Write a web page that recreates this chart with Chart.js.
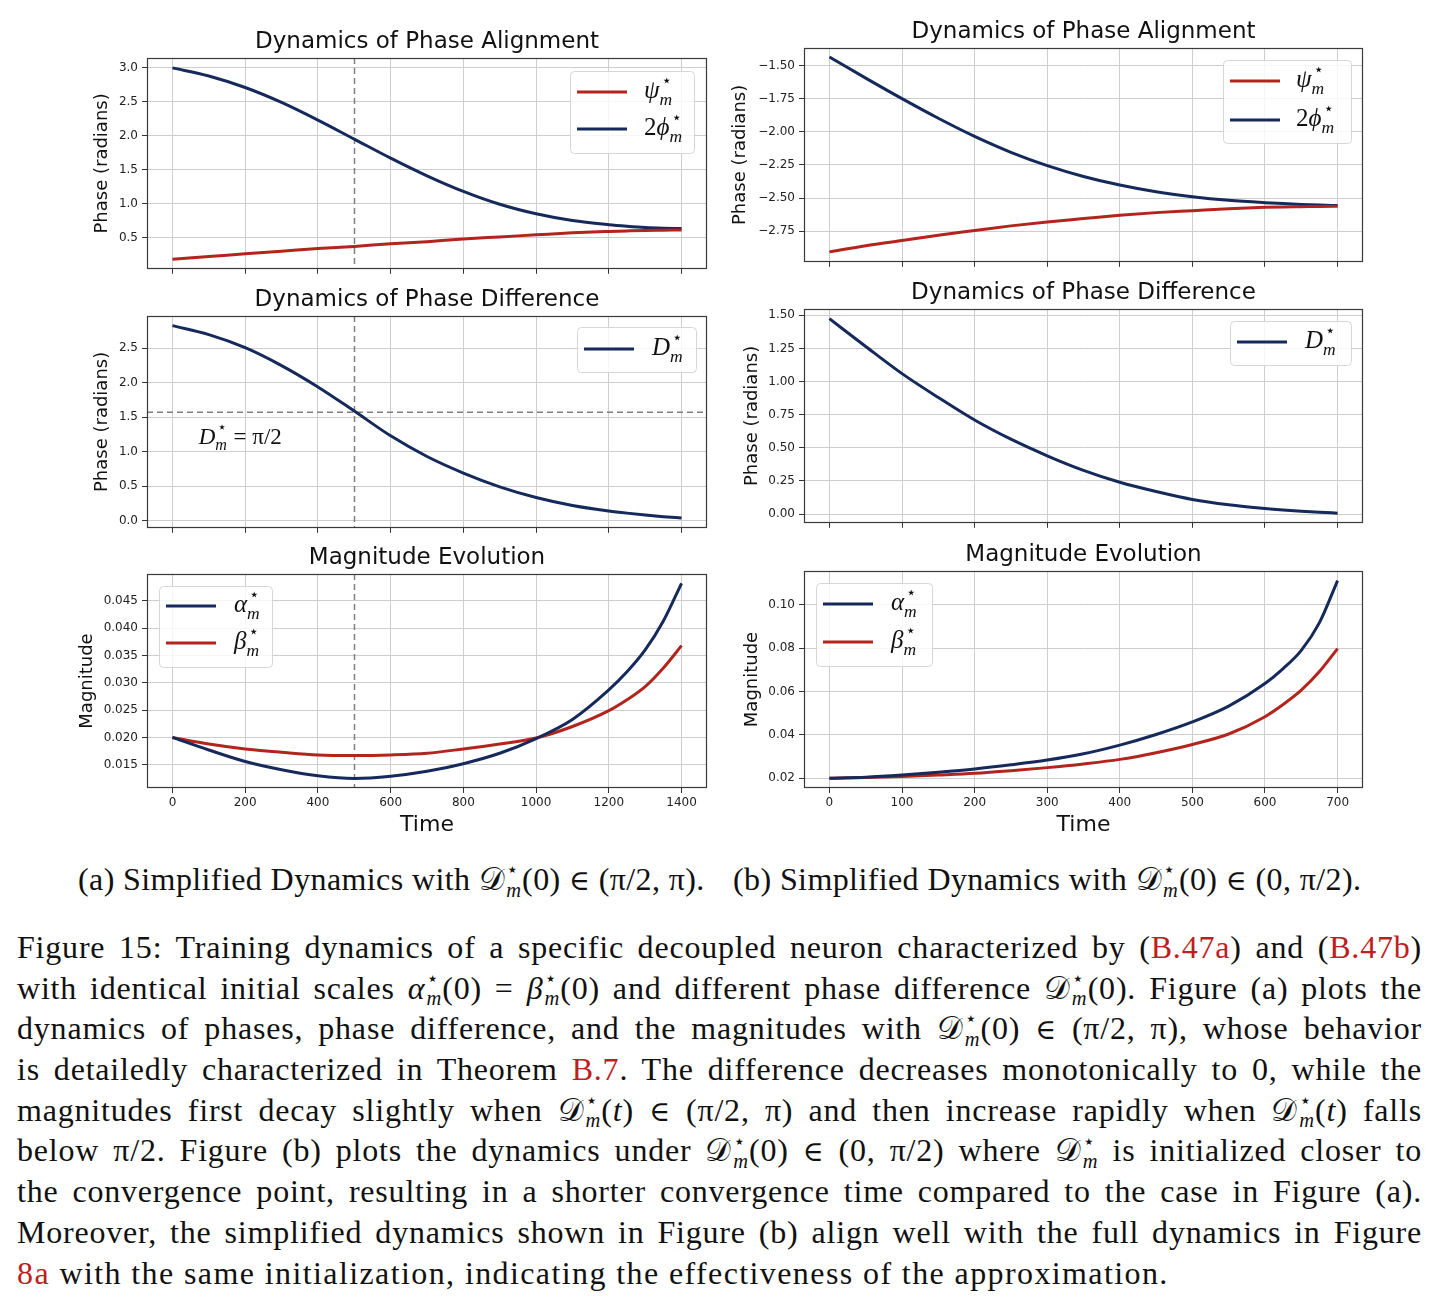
<!DOCTYPE html>
<html><head><meta charset="utf-8">
<script src="https://cdn.jsdelivr.net/npm/chart.js@4.4.1/dist/chart.umd.min.js"></script>
<style>
body{margin:0;background:#fff;}
#page{position:relative;width:1442px;height:1300px;overflow:hidden;background:#fff;}
canvas{position:absolute;}
.txt{position:absolute;font-family:'Liberation Serif',serif;color:#111;}
.cap{line-height:40px;white-space:nowrap;font-size:32px;letter-spacing:0.4px;}
#body{left:17px;width:1405px;top:927px;line-height:40.7px;font-size:32px;letter-spacing:0.8px;}
.ln{text-align:justify;text-align-last:justify;height:40.7px;white-space:nowrap;}
.ln.last{text-align-last:left;letter-spacing:1.4px;}
.mi{font-style:italic;}
.cal{font-style:normal;}
.el{font-family:'DejaVu Serif',serif;font-size:0.88em;}
.ss{display:inline-block;vertical-align:-0.32em;line-height:1.0;font-size:0.64em;margin-left:1px;margin-right:1px;letter-spacing:0;}
.ss span{display:block;}
.ss .st{font-family:'DejaVu Sans',sans-serif;font-size:0.95em;}
.ref{color:#bf1e1e;}
</style>
</head><body>
<div id="page">
<canvas id="c1" width="659" height="256" style="left:60px;top:24px"></canvas>
<canvas id="c2" width="659" height="257" style="left:60px;top:282px"></canvas>
<canvas id="c3" width="659" height="303" style="left:60px;top:540px"></canvas>
<canvas id="c4" width="655" height="259" style="left:720px;top:14px"></canvas>
<canvas id="c5" width="655" height="259" style="left:720px;top:275px"></canvas>
<canvas id="c6" width="655" height="306" style="left:720px;top:537px"></canvas>
<div id="capA" class="txt cap" style="left:78px;top:859px"></div>
<div id="capB" class="txt cap" style="left:733px;top:859px"></div>
<div id="body" class="txt"></div>
</div>
<script>
// ---------------- data ----------------
const leftTime  = [0,100,200,300,400,500,600,700,800,900,1000,1100,1200,1250,1300,1350,1400];
const leftPsi   = [0.18,0.22,0.26,0.30,0.34,0.37,0.41,0.44,0.48,0.51,0.54,0.57,0.59,0.598,0.605,0.609,0.613];
const leftTwoPhi= [3.0,2.88,2.71,2.49,2.23,1.95,1.67,1.41,1.18,0.99,0.85,0.75,0.69,0.668,0.65,0.639,0.632];
const leftD     = [2.83,2.70,2.51,2.25,1.94,1.59,1.23,0.93,0.69,0.49,0.335,0.22,0.14,0.108,0.08,0.057,0.038];
const leftAlpha = [0.0200,0.0177,0.0156,0.0141,0.0130,0.0125,0.0129,0.0138,0.0152,0.0171,0.0198,0.0233,0.0287,0.0320,0.0360,0.0413,0.0482];
const leftBeta  = [0.0200,0.0188,0.0179,0.0173,0.0168,0.0167,0.0168,0.0171,0.0179,0.0188,0.0199,0.0220,0.0249,0.0269,0.0293,0.0327,0.0368];

const rightTime  = [0,50,100,150,200,250,300,350,400,450,500,550,600,625,650,675,700];
const rightTwoPhi= [-1.436,-1.595,-1.75,-1.898,-2.035,-2.155,-2.255,-2.337,-2.402,-2.453,-2.49,-2.517,-2.535,-2.542,-2.548,-2.553,-2.557];
const rightPsi   = [-2.906,-2.86,-2.82,-2.78,-2.745,-2.71,-2.68,-2.655,-2.63,-2.61,-2.595,-2.58,-2.57,-2.567,-2.565,-2.563,-2.562];
const rightD     = [1.475,1.265,1.06,0.88,0.71,0.565,0.44,0.33,0.24,0.17,0.11,0.07,0.042,0.031,0.022,0.014,0.007];
const rightAlpha = [0.0200,0.0205,0.0215,0.0228,0.0243,0.0262,0.0284,0.0313,0.0353,0.0402,0.0460,0.0533,0.0637,0.0706,0.0790,0.0918,0.1112];
const rightBeta  = [0.0200,0.0203,0.0208,0.0215,0.0223,0.0235,0.0249,0.0266,0.0287,0.0318,0.0356,0.0404,0.0484,0.0540,0.0606,0.0692,0.0798];

const leftXTicks  = [0,200,400,600,800,1000,1200,1400];
const leftXLabels = ['0','200','400','600','800','1000','1200','1400'];
const rightXTicks  = [0,100,200,300,400,500,600,700];
const rightXLabels = ['0','100','200','300','400','500','600','700'];
const ltYTicks  = [0.5,1.0,1.5,2.0,2.5,3.0];
const ltYLabels = ['0.5','1.0','1.5','2.0','2.5','3.0'];
const lmYTicks  = [0,0.5,1.0,1.5,2.0,2.5];
const lmYLabels = ['0.0','0.5','1.0','1.5','2.0','2.5'];
const lbYTicks  = [0.015,0.020,0.025,0.030,0.035,0.040,0.045];
const lbYLabels = ['0.015','0.020','0.025','0.030','0.035','0.040','0.045'];
const rtYTicks  = [-2.75,-2.50,-2.25,-2.00,-1.75,-1.50];
const rtYLabels = ['\u22122.75','\u22122.50','\u22122.25','\u22122.00','\u22121.75','\u22121.50'];
const rmYTicks  = [0,0.25,0.50,0.75,1.00,1.25,1.50];
const rmYLabels = ['0.00','0.25','0.50','0.75','1.00','1.25','1.50'];
const rbYTicks  = [0.02,0.04,0.06,0.08,0.10];
const rbYLabels = ['0.02','0.04','0.06','0.08','0.10'];

const leftCrossTime = [500];        // vertical reference line (left column)
const halfPi = [1.5708];            // horizontal reference line D = pi/2

// ---------------- style ----------------
const RED = '#b3241d', BLUE = '#15295b';
const GRID = '#cdcdcd', FRAME = '#3a3a3a';

const PSI  = [{t:'\u03c8',it:true},{sup:'\u22c6',sub:'m'}];
const PHI2 = [{t:'2'},{t:'\u03d5',it:true},{sup:'\u22c6',sub:'m'}];
const DM   = [{t:'D',it:true},{sup:'\u22c6',sub:'m'}];
const ALPHA= [{t:'\u03b1',it:true},{sup:'\u22c6',sub:'m'}];
const BETA = [{t:'\u03b2',it:true},{sup:'\u22c6',sub:'m'}];

function drawMath(ctx, x, y, tokens, size){
  let cx = x;
  ctx.textBaseline = 'alphabetic'; ctx.textAlign = 'left'; ctx.fillStyle = '#111';
  for (const tk of tokens){
    if (tk.sup !== undefined){
      const s = size*0.7;
      ctx.font = `${s*0.95}px 'DejaVu Sans', sans-serif`;
      const w1 = ctx.measureText(tk.sup).width;
      ctx.fillText(tk.sup, cx+2, y - size*0.5);
      ctx.font = `italic ${s}px 'Liberation Serif', serif`;
      const w2 = ctx.measureText(tk.sub).width;
      ctx.fillText(tk.sub, cx, y + size*0.26);
      cx += Math.max(w1+2,w2) + 1;
    } else {
      ctx.font = `${tk.it?'italic ':''}${size}px 'Liberation Serif', 'DejaVu Serif', serif`;
      ctx.fillText(tk.t, cx, y);
      cx += ctx.measureText(tk.t).width + (tk.pad||0);
    }
  }
}

const deco = {
  id:'deco',
  beforeDatasetsDraw(chart, args, o){
    const {ctx, chartArea:a, scales:{x,y}} = chart;
    ctx.save();
    ctx.strokeStyle = '#7f7f7f'; ctx.lineWidth = 1.5; ctx.setLineDash([6,4]);
    (o.vlines||[]).forEach(v=>{ const px = Math.round(x.getPixelForValue(v))+0.5;
      ctx.beginPath(); ctx.moveTo(px,a.top); ctx.lineTo(px,a.bottom); ctx.stroke(); });
    (o.hlines||[]).forEach(v=>{ const py = y.getPixelForValue(v);
      ctx.beginPath(); ctx.moveTo(a.left,py); ctx.lineTo(a.right,py); ctx.stroke(); });
    ctx.restore();
  },
  afterDatasetsDraw(chart, args, o){
    const {ctx, chartArea:a, scales:{x,y}} = chart;
    ctx.save();
    if (o.legend){
      const L = o.legend;
      const bx = L.corner==='ur' ? a.right - L.off - L.w : a.left + L.off;
      const by = a.top + L.off;
      ctx.beginPath(); ctx.roundRect(bx+0.5, by+0.5, L.w, L.h, 4);
      ctx.fillStyle = 'rgba(255,255,255,0.82)'; ctx.fill();
      ctx.strokeStyle = '#d6d6d6'; ctx.lineWidth = 1; ctx.stroke();
      L.items.forEach((it,i)=>{
        const ry = by + L.rows[i];
        ctx.strokeStyle = it.color; ctx.lineWidth = 3; ctx.setLineDash([]);
        ctx.beginPath(); ctx.moveTo(bx+7, ry); ctx.lineTo(bx+57, ry); ctx.stroke();
        drawMath(ctx, bx + L.tx, ry + 6, it.tokens, 25);
      });
    }
    if (o.annot){
      const px = x.getPixelForValue(o.annot.x), py = y.getPixelForValue(o.annot.y);
      drawMath(ctx, px, py + 7, o.annot.tokens, 23);
    }
    ctx.restore();
  },
  afterDraw(chart, args, o){
    const {ctx, chartArea:a} = chart;
    ctx.save();
    ctx.strokeStyle = FRAME; ctx.lineWidth = 1.2; ctx.setLineDash([]);
    ctx.strokeRect(Math.round(a.left)+0.5, Math.round(a.top)+0.5, Math.round(a.right-a.left)-1, Math.round(a.bottom-a.top)-1);
    ctx.fillStyle = '#111'; ctx.font = "23px 'DejaVu Sans', sans-serif";
    ctx.textAlign = 'center'; ctx.textBaseline = 'middle';
    ctx.fillText(o.title, (a.left+a.right)/2, a.top - 15.5);
    ctx.restore();
  }
};

function makeChart(id, c){
  return new Chart(document.getElementById(id), {
    type:'line',
    data:{datasets: c.series.map(s=>({
      label:s.name, data:c.x.map((t,i)=>({x:t, y:s.y[i]})),
      borderColor:s.color, backgroundColor:s.color, borderWidth:3,
      pointRadius:0, fill:false, cubicInterpolationMode:'monotone'}))},
    options:{
      responsive:false, animation:false, devicePixelRatio:1, events:[],
      layout:{padding:{top:34,left:0,right:12,bottom:0}},
      plugins:{legend:{display:false}, tooltip:{enabled:false}, deco:c.deco},
      scales:{
        x:{type:'linear', bounds:'data', min:c.xmin, max:c.xmax, position:'bottom',
           afterFit(s){ s.height = c.xH; },
           afterBuildTicks(s){ s.ticks = c.xTicks.map(v=>({value:v})); },
           ticks:{display:c.showX, autoSkip:false, maxRotation:0, padding:3, color:'#222',
                  font:{family:'DejaVu Sans', size:12}, callback:(v,i)=>c.xLabels[i]},
           grid:{color:GRID, lineWidth:1, tickColor:'#333', tickLength:5, tickWidth:1},
           border:{display:false},
           title:{display:c.showX, text:'Time', color:'#111', font:{family:'DejaVu Sans', size:22}, padding:{top:0,bottom:4.8}}},
        y:{type:'linear', bounds:'data', min:c.ymin, max:c.ymax, position:'left',
           afterFit(s){ s.width = c.yW; },
           afterBuildTicks(s){ s.ticks = c.yTicks.map(v=>({value:v})); },
           ticks:{autoSkip:false, padding:4, color:'#222', font:{family:'DejaVu Sans', size:12},
                  callback:(v,i)=>c.yLabels[i]},
           grid:{color:GRID, lineWidth:1, tickColor:'#333', tickLength:5, tickWidth:1},
           border:{display:false},
           title:{display:true, text:c.yTitle, color:'#111', font:{family:'DejaVu Sans', size:18}, padding:{top:c.yTitlePad,bottom:0}}}
      }
    },
    plugins:[deco]
  });
}

// ---- left column ----
makeChart('c1', {x:leftTime, xmin:-70, xmax:1470, ymin:0.04, ymax:3.145, xH:8, yW:87, showX:false,
  xTicks:leftXTicks, xLabels:leftXLabels, yTicks:ltYTicks, yLabels:ltYLabels,
  yTitle:'Phase (radians)', yTitlePad:31.2,
  series:[{name:'psi', y:leftPsi, color:RED},{name:'2phi', y:leftTwoPhi, color:BLUE}],
  deco:{title:'Dynamics of Phase Alignment', vlines:leftCrossTime,
        legend:{corner:'ur', off:13, w:124, h:82, tx:74, rows:[21,58], items:[{color:RED,tokens:PSI},{color:BLUE,tokens:PHI2}]}}});

makeChart('c2', {x:leftTime, xmin:-70, xmax:1470, ymin:-0.105, ymax:2.97, xH:8, yW:87, showX:false,
  xTicks:leftXTicks, xLabels:leftXLabels, yTicks:lmYTicks, yLabels:lmYLabels,
  yTitle:'Phase (radians)', yTitlePad:31.2,
  series:[{name:'D', y:leftD, color:BLUE}],
  deco:{title:'Dynamics of Phase Difference', vlines:leftCrossTime, hlines:halfPi,
        annot:{x:72, y:1.22, tokens:[{t:'D',it:true},{sup:'\u22c6',sub:'m'},{t:' = \u03c0/2'}]},
        legend:{corner:'ur', off:11, w:119, h:45, tx:75, rows:[22], items:[{color:BLUE,tokens:DM}]}}});

makeChart('c3', {x:leftTime, xmin:-70, xmax:1470, ymin:0.01075, ymax:0.0499, xH:55, yW:87, showX:true,
  xTicks:leftXTicks, xLabels:leftXLabels, yTicks:lbYTicks, yLabels:lbYLabels,
  yTitle:'Magnitude', yTitlePad:16.7,
  series:[{name:'alpha', y:leftAlpha, color:BLUE},{name:'beta', y:leftBeta, color:RED}],
  deco:{title:'Magnitude Evolution', vlines:leftCrossTime,
        legend:{corner:'ul', off:12, w:113, h:81, tx:75, rows:[20,57], items:[{color:BLUE,tokens:ALPHA},{color:RED,tokens:BETA}]}}});

// ---- right column ----
makeChart('c4', {x:rightTime, xmin:-35, xmax:735, ymin:-2.981, ymax:-1.368, xH:8, yW:84, showX:false,
  xTicks:rightXTicks, xLabels:rightXLabels, yTicks:rtYTicks, yLabels:rtYLabels,
  yTitle:'Phase (radians)', yTitlePad:9.2,
  series:[{name:'psi', y:rightPsi, color:RED},{name:'2phi', y:rightTwoPhi, color:BLUE}],
  deco:{title:'Dynamics of Phase Alignment',
        legend:{corner:'ur', off:12, w:128, h:83, tx:73, rows:[21,60], items:[{color:RED,tokens:PSI},{color:BLUE,tokens:PHI2}]}}});

makeChart('c5', {x:rightTime, xmin:-35, xmax:735, ymin:-0.066, ymax:1.548, xH:8, yW:84, showX:false,
  xTicks:rightXTicks, xLabels:rightXLabels, yTicks:rmYTicks, yLabels:rmYLabels,
  yTitle:'Phase (radians)', yTitlePad:21.8,
  series:[{name:'D', y:rightD, color:BLUE}],
  deco:{title:'Dynamics of Phase Difference',
        legend:{corner:'ur', off:12, w:121, h:44, tx:75, rows:[21], items:[{color:BLUE,tokens:DM}]}}});

makeChart('c6', {x:rightTime, xmin:-35, xmax:735, ymin:0.0155, ymax:0.1156, xH:55, yW:84, showX:true,
  xTicks:rightXTicks, xLabels:rightXLabels, yTicks:rbYTicks, yLabels:rbYLabels,
  yTitle:'Magnitude', yTitlePad:21.8,
  series:[{name:'alpha', y:rightAlpha, color:BLUE},{name:'beta', y:rightBeta, color:RED}],
  deco:{title:'Magnitude Evolution',
        legend:{corner:'ul', off:12, w:116, h:83, tx:75, rows:[21,59], items:[{color:BLUE,tokens:ALPHA},{color:RED,tokens:BETA}]}}});

// ---------------- captions ----------------
const SS = '<span class="ss"><span class="st">\u22c6</span><span class="mi">m</span></span>';
const Dm = '<span class="cal">\ud835\udc9f</span>' + SS;
const al = '<span class="mi">\u03b1</span>' + SS;
const be = '<span class="mi">\u03b2</span>' + SS;
const T = '<span class="mi">t</span>';
const IN = '<span class="el">\u2208</span>';
document.getElementById('capA').innerHTML = `(a) Simplified Dynamics with ${Dm}(0) ${IN} (\u03c0/2, \u03c0).`;
document.getElementById('capB').innerHTML = `(b) Simplified Dynamics with ${Dm}(0) ${IN} (0, \u03c0/2).`;
const bodyLines = [
  `Figure 15: Training dynamics of a specific decoupled neuron characterized by (<span class="ref">B.47a</span>) and (<span class="ref">B.47b</span>)`,
  `with identical initial scales ${al}(0) = ${be}(0) and different phase difference ${Dm}(0). Figure (a) plots the`,
  `dynamics of phases, phase difference, and the magnitudes with ${Dm}(0) ${IN} (\u03c0/2, \u03c0), whose behavior`,
  `is detailedly characterized in Theorem <span class="ref">B.7</span>. The difference decreases monotonically to 0, while the`,
  `magnitudes first decay slightly when ${Dm}(${T}) ${IN} (\u03c0/2, \u03c0) and then increase rapidly when ${Dm}(${T}) falls`,
  `below \u03c0/2. Figure (b) plots the dynamics under ${Dm}(0) ${IN} (0, \u03c0/2) where ${Dm} is initialized closer to`,
  `the convergence point, resulting in a shorter convergence time compared to the case in Figure (a).`,
  `Moreover, the simplified dynamics shown in Figure (b) align well with the full dynamics in Figure`,
  `<span class="ref">8a</span> with the same initialization, indicating the effectiveness of the approximation.`
];
document.getElementById('body').innerHTML = bodyLines.map((h,i)=>
  `<div class="ln${i===bodyLines.length-1?' last':''}">${h}</div>`).join('');
</script>
</body></html>
